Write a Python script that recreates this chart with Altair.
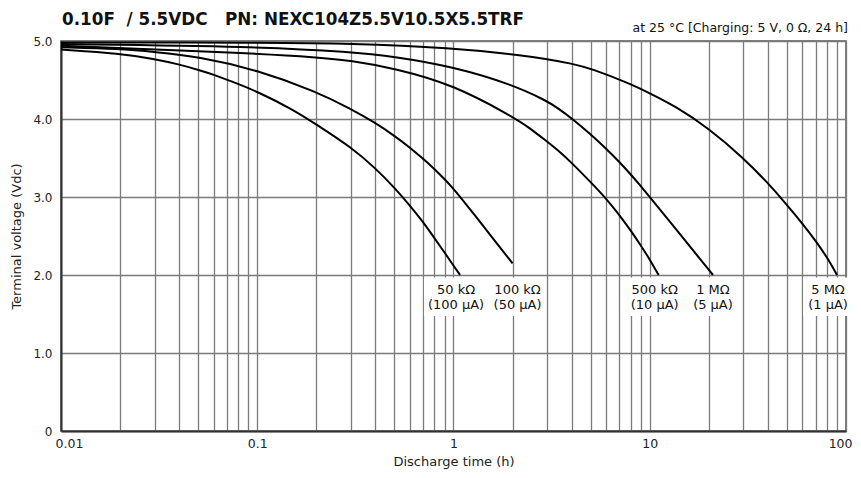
import altair as alt
import pandas as pd

# ---------------- data ----------------
SERIES = ["50 kΩ", "100 kΩ", "500 kΩ", "1 MΩ", "5 MΩ"]
CURRENTS = ["(100 μA)", "(50 μA)", "(10 μA)", "(5 μA)", "(1 μA)"]

T_50K = [0.01, 0.02, 0.03, 0.04, 0.05, 0.06, 0.08, 0.1, 0.15, 0.2, 0.3, 0.4, 0.5, 0.6, 0.7, 0.8, 0.9, 1.0, 1.08]
V_50K = [4.89, 4.84, 4.77, 4.70, 4.63, 4.57, 4.45, 4.35, 4.13, 3.93, 3.64, 3.37, 3.12, 2.89, 2.68, 2.47, 2.29, 2.12, 2.0]

T_100K = [0.01, 0.02, 0.03, 0.05, 0.1, 0.2, 0.3, 0.4, 0.5, 0.6, 0.7, 0.8, 0.9, 1.0, 1.3, 1.63, 2.0]
V_100K = [4.92, 4.90, 4.86, 4.80, 4.63, 4.35, 4.13, 3.95, 3.785, 3.635, 3.49, 3.36, 3.23, 3.11, 2.75, 2.43, 2.15]

T_500K = [0.01, 0.1, 0.2, 0.3, 0.5, 1.0, 2.0, 2.4, 3.0, 3.4, 4.0, 5.0, 6.0, 7.0, 8.0, 9.0, 10.0, 11.1]
V_500K = [4.94, 4.84, 4.79, 4.75, 4.65, 4.44, 4.03, 3.90, 3.71, 3.60, 3.44, 3.19, 2.98, 2.77, 2.57, 2.38, 2.20, 2.0]

T_1M = [0.01, 0.1, 0.3, 0.5, 1.0, 2.0, 3.0, 3.4, 4.0, 5.0, 6.0, 7.0, 8.0, 9.0, 10.0, 12.9, 16.2, 21.0]
V_1M = [4.96, 4.93, 4.86, 4.80, 4.67, 4.44, 4.23, 4.14, 4.01, 3.805, 3.62, 3.45, 3.29, 3.14, 3.0, 2.66, 2.35, 2.0]

T_5M = [0.01, 0.1, 0.3, 1.0, 2.0, 3.0, 4.0, 5.0, 8.0, 10.0, 13.4, 20.0, 30.0, 40.0, 50.0, 60.0, 70.0, 80.0, 90.0]
V_5M = [4.98, 4.98, 4.97, 4.91, 4.83, 4.77, 4.71, 4.65, 4.45, 4.33, 4.17, 3.88, 3.50, 3.18, 2.90, 2.66, 2.44, 2.23, 2.0]

T_ALL = [T_50K, T_100K, T_500K, T_1M, T_5M]
V_ALL = [V_50K, V_100K, V_500K, V_1M, V_5M]

X_DECADES = [0.01, 0.1, 1, 10, 100]
Y_TICKS = [0, 1, 2, 3, 4, 5]
LABEL_LEVEL = 2.0  # labels sit just below the 2.0 V line

TITLE = "0.10F\u00a0\u00a0/ 5.5VDC\u00a0\u00a0\u00a0PN: NEXC104Z5.5V10.5X5.5TRF"
SUBTITLE = "at 25 °C [Charging: 5 V, 0 Ω, 24 h]"

# ---------------- layout / style ----------------
WIDTH, HEIGHT = 785, 390
PX_PER_DECADE = WIDTH / 4
PX_PER_VOLT = HEIGHT / 5
FONT = "DejaVu Sans"
LABEL_FS = 13
LABEL_DX = [-4, 5, -4, 0, -9]  # pixel nudges of the labels relative to curve ends

curves = pd.concat(
    [pd.DataFrame({"series": s, "t": t, "v": v}) for s, t, v in zip(SERIES, T_ALL, V_ALL)],
    ignore_index=True,
)

rows = []
for s, c, t, dx in zip(SERIES, CURRENTS, T_ALL, LABEL_DX):
    lt = t[-1] * 10 ** (dx / PX_PER_DECADE)
    half_w = max(len(s), len(c)) * LABEL_FS * 0.56 / 2 + 3
    rows.append({
        "series": s,
        "label": s + "\n" + c,
        "lt": lt,
        "ly": LABEL_LEVEL,
        "bx0": lt * 10 ** (-half_w / PX_PER_DECADE),
        "bx1": lt * 10 ** (half_w / PX_PER_DECADE),
        "by0": LABEL_LEVEL - 2.5 / PX_PER_VOLT,
        "by1": LABEL_LEVEL - 41 / PX_PER_VOLT,
    })
labels = pd.DataFrame(rows)

X_GRID = [round(m * 10.0 ** k, 6) for k in range(-2, 2) for m in range(1, 10)] + [100]

x_scale = alt.Scale(type="log", domain=[X_DECADES[0], X_DECADES[-1]], nice=False)
y_scale = alt.Scale(domain=[Y_TICKS[0], Y_TICKS[-1]], nice=False, zero=False)

x_axis = alt.Axis(
    values=X_GRID,
    title="Discharge time (h)",
    labelExpr="abs(log(datum.value)/LN10 - round(log(datum.value)/LN10)) < 0.001 ? format(datum.value, '~g') : ''",
    labelOverlap=False,
    labelFlush=True,
    labelFlushOffset=6,
    ticks=False,
    tickSize=0,
    labelPadding=6,
    labelFontSize=12.5,
    titleFontSize=13,
    titlePadding=6,
    domainColor="#333333",
    domainWidth=2,
)
y_axis = alt.Axis(
    values=Y_TICKS,
    title="Terminal voltage (Vdc)",
    labelExpr="datum.value == 0 ? '0' : format(datum.value, '.1f')",
    ticks=False,
    tickSize=0,
    labelPadding=9,
    labelFontSize=12,
    titleFontSize=13,
    titlePadding=9,
    domainColor="#333333",
    domainWidth=2,
)

base_x = dict(scale=x_scale, axis=x_axis)
base_y = dict(scale=y_scale, axis=y_axis)

lines = alt.Chart(curves).mark_line(
    color="black", strokeWidth=2, interpolate="basis"
).encode(
    x=alt.X("t:Q", **base_x),
    y=alt.Y("v:Q", **base_y),
    detail="series:N",
)

boxes = alt.Chart(labels).mark_rect(color="white").encode(
    x=alt.X("bx0:Q", **base_x),
    x2="bx1:Q",
    y=alt.Y("by0:Q", **base_y),
    y2="by1:Q",
)

texts = alt.Chart(labels).mark_text(
    font=FONT, fontSize=LABEL_FS, align="center", baseline="alphabetic",
    dy=19, lineHeight=14.5, lineBreak="\n", color="#111111",
).encode(
    x=alt.X("lt:Q", **base_x),
    y=alt.Y("ly:Q", **base_y),
    text="label:N",
)

sub = alt.Chart(pd.DataFrame({"txt": [SUBTITLE]})).mark_text(
    font=FONT, fontSize=12.5, align="right", baseline="alphabetic", dy=-9, dx=2, color="#111111",
).encode(
    x=alt.X(datum=X_DECADES[-1], **base_x),
    y=alt.Y(datum=Y_TICKS[-1], **base_y),
    text="txt:N",
)

title = alt.Chart(pd.DataFrame({"txt": [TITLE]})).mark_text(
    font=FONT, fontSize=16.8, fontWeight="bold", align="left", baseline="alphabetic",
    dx=1, dy=-16.5, color="#111111",
).encode(
    x=alt.X(datum=X_DECADES[0], **base_x),
    y=alt.Y(datum=Y_TICKS[-1], **base_y),
    text="txt:N",
)

chart = alt.layer(lines, boxes, texts, sub, title).properties(
    width=WIDTH,
    height=HEIGHT,
    autosize=alt.AutoSizeParams(type="none"),
    padding={"left": 53, "top": 33, "right": 7, "bottom": 39},
).configure_view(
    stroke="#555555", strokeWidth=1.5
).configure_axis(
    gridColor="#7a7a7a", gridWidth=1.3, gridOpacity=1,
    labelFont=FONT, titleFont=FONT, labelColor="#222222", titleColor="#222222",
    titleFontWeight="normal",
)

chart.save("out.html", embed_options={"renderer": "svg", "actions": False})
